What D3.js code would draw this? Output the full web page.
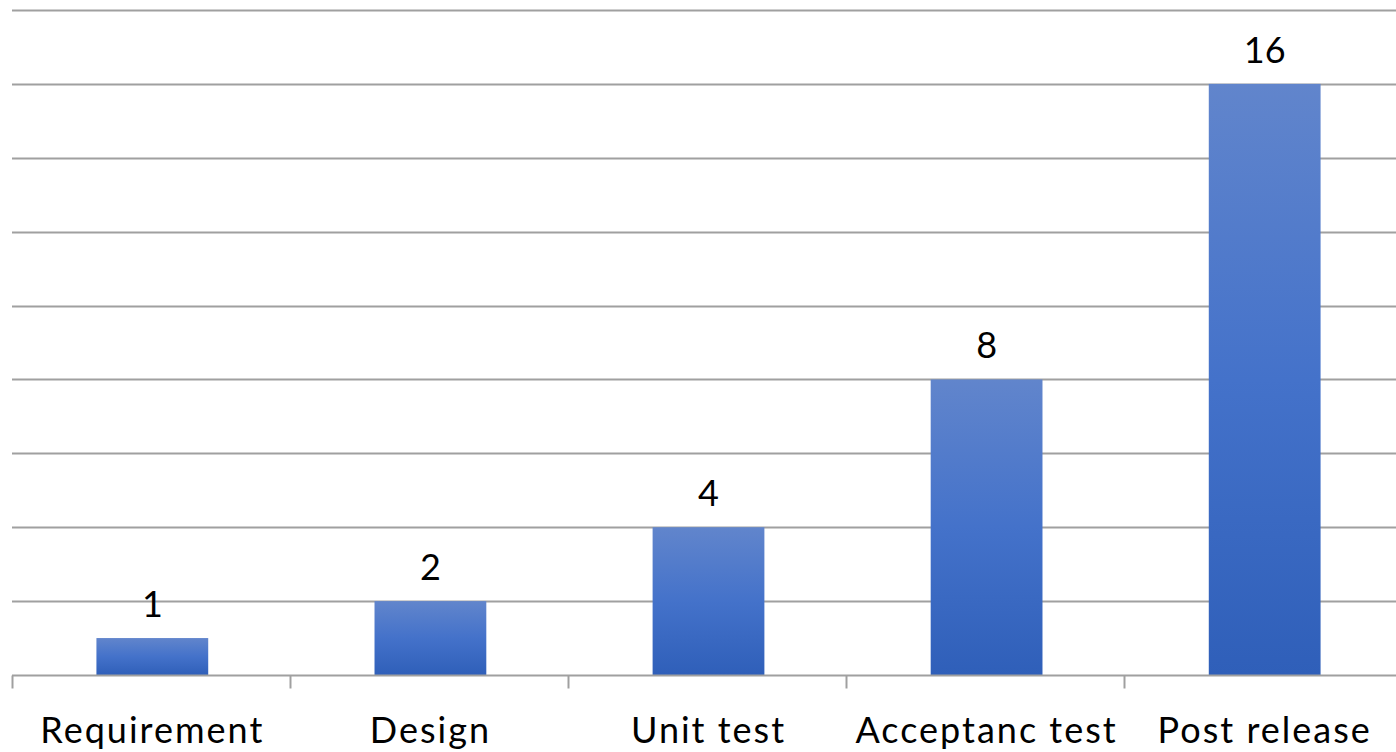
<!DOCTYPE html>
<html>
<head>
<meta charset="utf-8">
<script src="https://cdn.jsdelivr.net/npm/d3@7"></script>
<style>
  html, body { margin: 0; padding: 0; background: #fff; overflow: hidden; }
  svg { display: block; }
</style>
</head>
<body>
<svg id="chart" width="1396" height="752"></svg>
<script>
// Relative cost of fixing a defect, by phase in which it is found
const categories = ["Requirement", "Design", "Unit test", "Acceptanc test", "Post release"];
const values = [1, 2, 4, 8, 16];
const gridTicks = [0, 2, 4, 6, 8, 10, 12, 14, 16, 18];

const svg = d3.select("#chart");
const width = 1396, height = 752;
const margin = { top: 10, right: -7, bottom: 77, left: 12 };

const x = d3.scaleBand()
  .domain(categories)
  .range([margin.left, width - margin.right])
  .paddingInner(0.598)
  .paddingOuter(0.3);

const y = d3.scaleLinear()
  .domain([0, 18])
  .range([height - margin.bottom, margin.top]);

// per-bar vertical gradient
const defs = svg.append("defs");
const grad = defs.append("linearGradient")
  .attr("id", "barGrad")
  .attr("x1", 0).attr("y1", 0).attr("x2", 0).attr("y2", 1);
grad.append("stop").attr("offset", "0%").attr("stop-color", "#6185CC");
grad.append("stop").attr("offset", "50%").attr("stop-color", "#4472CA");
grad.append("stop").attr("offset", "100%").attr("stop-color", "#2F5FB9");

// horizontal gridlines
svg.append("g")
  .selectAll("line")
  .data(gridTicks.slice(1))
  .join("line")
  .attr("x1", margin.left)
  .attr("x2", width)
  .attr("y1", d => Math.round(y(d)) + 0.5)
  .attr("y2", d => Math.round(y(d)) + 0.5)
  .attr("stroke", "#A0A0A0")
  .attr("stroke-width", 2);

// bars
svg.append("g")
  .selectAll("rect")
  .data(values)
  .join("rect")
  .attr("x", (d, i) => x(categories[i]) + 1)
  .attr("y", d => y(d))
  .attr("width", x.bandwidth())
  .attr("height", d => y(0) - y(d))
  .attr("fill", "url(#barGrad)");

// value labels
svg.append("g")
  .selectAll("text")
  .data(values)
  .join("text")
  .attr("x", (d, i) => x(categories[i]) + 1 + x.bandwidth() / 2)
  .attr("y", d => y(d) - 21)
  .attr("text-anchor", "middle")
  .attr("font-family", "Lato, 'Open Sans', sans-serif")
  .attr("font-size", 36)
  .attr("fill", "#000")
  .text(d => d);

// category axis
const step = x.step();
const axisY = Math.round(y(0)) + 0.5;
const axis = svg.append("g");
axis.append("line")
  .attr("x1", margin.left).attr("x2", width)
  .attr("y1", axisY).attr("y2", axisY)
  .attr("stroke", "#A0A0A0").attr("stroke-width", 2);

const boundaries = d3.range(categories.length + 1).map(i => margin.left + i * step);
axis.selectAll("line.tick")
  .data(boundaries)
  .join("line")
  .attr("class", "tick")
  .attr("x1", d => Math.round(d) + 0.5)
  .attr("x2", d => Math.round(d) + 0.5)
  .attr("y1", axisY)
  .attr("y2", axisY + 13)
  .attr("stroke", "#A0A0A0")
  .attr("stroke-width", 2);

axis.selectAll("text")
  .data(categories)
  .join("text")
  .attr("x", d => x(d) + 1 + x.bandwidth() / 2)
  .attr("y", 743)
  .attr("text-anchor", "middle")
  .attr("font-family", "Lato, 'Open Sans', sans-serif")
  .attr("font-size", 36)
  .attr("letter-spacing", 2)
  .attr("fill", "#000")
  .text(d => d);
</script>
</body>
</html>
